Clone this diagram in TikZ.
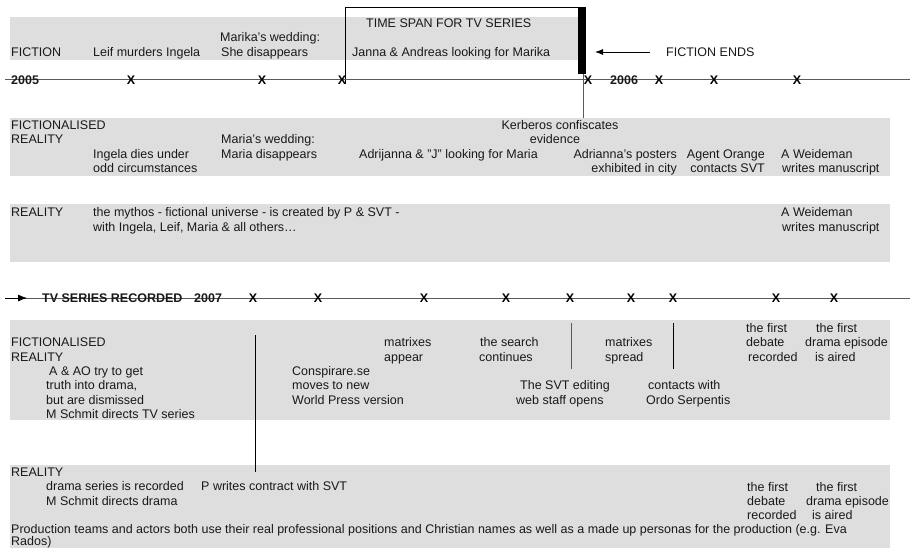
\documentclass[tikz,border=0pt]{standalone}
\usepackage{fontspec}
\setmainfont{Liberation Sans}
\usetikzlibrary{arrows.meta}
\definecolor{bandgray}{RGB}{222,222,222}
\definecolor{linegray}{RGB}{90,90,90}
\definecolor{txt}{RGB}{25,25,25}
\newcommand\fsz{\fontsize{12.5}{14.5}\selectfont}
\tikzset{
  lbl/.style={inner sep=0pt, anchor=base west, font=\fsz, text=txt},
  lblr/.style={inner sep=0pt, anchor=base east, font=\fsz, text=txt},
  lblc/.style={inner sep=0pt, anchor=base, font=\fsz, text=txt},
  xmark/.style={inner sep=0pt, font=\fsz\bfseries, text=black},
  yearlbl/.style={inner sep=0pt, anchor=west, font=\fsz\bfseries, text=txt},
  band/.style={fill=bandgray, draw=none},
  tline/.style={draw=linegray, line width=1pt},
  vline/.style={draw=black, line width=0.9pt},
}
\begin{document}
\begin{tikzpicture}[x=1pt,y=-1pt]
\useasboundingbox (0,0) rectangle (910,548);
% bands
\fill[band] (10,17) rectangle (580,60);
\fill[band] (10,118) rectangle (890,176);
\fill[band] (10,204) rectangle (890,262);
\fill[band] (10,320) rectangle (890,420);
\fill[band] (10,465) rectangle (890,548);

% time span box
\coordinate (boxBL) at (345,84);
\coordinate (boxTL) at (345,7);
\coordinate (boxTR) at (581,7);
\draw[black, line width=0.9pt] (boxBL) -- (boxTL) -- (boxTR);
\fill[black] (578,7) rectangle (586,74);
\coordinate (barB) at (583,74);
\coordinate (k2T) at (583,118);
\draw[linegray, line width=1pt] (barB) -- (k2T);

% timeline 1
\coordinate (t1a) at (5,80);
\coordinate (t1b) at (910,80);
\draw[tline] (t1a) -- (t1b);
\node[yearlbl] (y2005) at (11,80) {2005};
\node[yearlbl] (y2006) at (610,80) {2006};
\foreach \i/\x in {1/131,2/262,3/342,4/588,5/659,6/714,7/797}
  \node[xmark] (xa\i) at (\x,80) {X};

% fiction ends arrow
\node[lbl] (fe) at (666,57) {FICTION ENDS};
\coordinate (feTail) at (650,52);
\coordinate (feTip) at (595,52);
\draw[black, line width=0.8pt, -{Latex[length=8pt,width=6pt]}] (feTail) -- (feTip);

% band 1 text
\node[lbl] (f1) at (11,57) {FICTION};
\node[lbl] (f2) at (93,57) {Leif murders Ingela};
\node[lbl] (f3) at (220,42) {Marika’s wedding:};
\node[lbl] (f4) at (221,57) {She disappears};
\node[lbl] (f5) at (366,28) {TIME SPAN FOR TV SERIES};
\node[lbl] (f6) at (352,57) {Janna \& Andreas looking for Marika};

% band 2 text
\node[lbl] (g1) at (11,129.5) {FICTIONALISED};
\node[lbl] (g2) at (11,144) {REALITY};
\node[lbl] (g3) at (93,158.5) {Ingela dies under};
\node[lbl] (g4) at (93,173) {odd circumstances};
\node[lbl] (g5) at (221,144) {Maria’s wedding:};
\node[lbl] (g6) at (221,158.5) {Maria disappears};
\node[lbl] (g7) at (359,158.5) {Adrijanna \& "J" looking for Maria};
\node[lblc] (g8) at (560,129.5) {Kerberos confiscates};
\node[lblc] (g9) at (555,144) {evidence};
\node[lblr] (g10) at (677,158.5) {Adrianna’s posters};
\node[lblr] (g11) at (677,173) {exhibited in city};
\node[lblr] (g12) at (765,158.5) {Agent Orange};
\node[lblr] (g13) at (765,173) {contacts SVT};
\node[lbl] (g14) at (781,158.5) {A Weideman};
\node[lbl] (g15) at (782,173) {writes manuscript};

% band 3 text
\node[lbl] (h1) at (11,216) {REALITY};
\node[lbl] (h2) at (93,216) {the mythos - fictional universe - is created by P \& SVT -};
\node[lbl] (h3) at (93,231) {with Ingela, Leif, Maria \& all others…};
\node[lbl] (h4) at (781,216) {A Weideman};
\node[lbl] (h5) at (782,231) {writes manuscript};

% timeline 2
\coordinate (t2a) at (5,298);
\coordinate (t2b) at (910,298);
\coordinate (t2tip) at (27,298);
\draw[tline] (t2a) -- (t2b);
\draw[black, line width=0.8pt, -{Latex[length=9pt,width=7pt]}] (t2a) -- (t2tip);
\node[yearlbl] (tvrec) at (42,298) {TV SERIES RECORDED};
\node[yearlbl] (y2007) at (194,298) {2007};
\foreach \i/\x in {1/253,2/318,3/424,4/506,5/570,6/631,7/673,8/776,9/834}
  \node[xmark] (xb\i) at (\x,298) {X};

% band 4 text
\node[lbl] (k1) at (11,346) {FICTIONALISED};
\node[lbl] (k2) at (11,361) {REALITY};
\node[lbl] (k3) at (49,375) {A \& AO try to get};
\node[lbl] (k4) at (46,389.5) {truth into drama,};
\node[lbl] (k5) at (46,404) {but are dismissed};
\node[lbl] (k6) at (46,418.5) {M Schmit directs TV series};
\node[lbl] (k7) at (292,375) {Conspirare.se};
\node[lbl] (k8) at (292,389.5) {moves to new};
\node[lbl] (k9) at (292,404) {World Press version};
\node[lbl] (k10) at (384,346) {matrixes};
\node[lbl] (k11) at (384,361) {appear};
\node[lbl] (k12) at (480,346) {the search};
\node[lbl] (k13) at (479,361) {continues};
\node[lbl] (k14) at (520,389.5) {The SVT editing};
\node[lbl] (k15) at (516,404) {web staff opens};
\node[lbl] (k16) at (605,346) {matrixes};
\node[lbl] (k17) at (605,361) {spread};
\node[lbl] (k18) at (648,389.5) {contacts with};
\node[lbl] (k19) at (646,404) {Ordo Serpentis};
\node[lbl] (k20) at (746,332) {the first};
\node[lbl] (k21) at (746,346) {debate};
\node[lbl] (k22) at (748,361) {recorded};
\node[lbl] (k23) at (816,332) {the first};
\node[lbl] (k24) at (805,346) {drama episode};
\node[lbl] (k25) at (815,361) {is aired};

% vertical dividers
\coordinate (v1a) at (255,335);
\coordinate (v1b) at (255,472);
\draw[vline] (v1a) -- (v1b);
\coordinate (v2a) at (571,323);
\coordinate (v2b) at (571,369);
\draw[linegray, line width=1pt] (v2a) -- (v2b);
\coordinate (v3a) at (673,323);
\coordinate (v3b) at (673,369);
\draw[vline] (v3a) -- (v3b);

% band 5 text
\node[lbl] (m1) at (11,476) {REALITY};
\node[lbl] (m2) at (46,490.5) {drama series is recorded};
\node[lbl] (m3) at (46,505) {M Schmit directs drama};
\node[lbl] (m4) at (201,490.5) {P writes contract with SVT};
\node[lbl] (m5) at (747,491) {the first};
\node[lbl] (m6) at (747,505) {debate};
\node[lbl] (m7) at (747,519.5) {recorded};
\node[lbl] (m8) at (816,491) {the first};
\node[lbl] (m9) at (806,505) {drama episode};
\node[lbl] (m10) at (812,519.5) {is aired};
\node[lbl] (m11) at (11,533.5) {Production teams and actors both use their real professional positions and Christian names as well as a made up personas for the production (e.g. Eva};
\node[lbl] (m12) at (11,545) {Rados)};
\end{tikzpicture}
\end{document}
